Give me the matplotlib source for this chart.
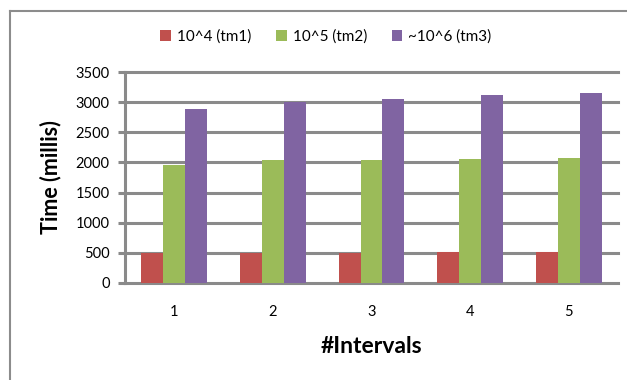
import matplotlib
matplotlib.use("Agg")
import matplotlib.pyplot as plt
import numpy as np
from matplotlib.lines import Line2D
from matplotlib.patches import Patch

plt.rcParams['font.family'] = ['Lato', 'DejaVu Sans']

intervals = ["1", "2", "3", "4", "5"]
tm1 = [490, 490, 490, 505, 505]
tm2 = [1965, 2035, 2035, 2055, 2080]
tm3 = [2895, 3010, 3050, 3115, 3160]
series_names = ["10^4 (tm1)", "10^5 (tm2)", "~10^6 (tm3)"]
colors = ["#C0504D", "#9BBB59", "#8064A2"]
y_ticks = [0, 500, 1000, 1500, 2000, 2500, 3000, 3500]

W, H = 627, 380
fig = plt.figure(figsize=(W / 100, H / 100), dpi=100)
fig.patch.set_facecolor("white")

ax = fig.add_axes([125 / W, 1 - 282.7 / H, (618 - 125) / W, (282.7 - 72.3) / H])

x = np.arange(len(intervals))
bw = 0.222
for i, vals in enumerate([tm1, tm2, tm3]):
    ax.bar(x + (i - 1) * bw, vals, width=bw, color=colors[i], zorder=3,
           edgecolor="none")

grid_c = "#8A8A8A"
ax.set_xlim(-0.5, len(intervals) - 0.5)
ax.set_ylim(0, 3500)
ax.set_yticks(y_ticks)
ax.set_xticks(x)
ax.set_xticklabels(intervals)
for v in y_ticks:
    ax.axhline(v, color=grid_c, lw=2.2, zorder=1, clip_on=False)

for s in ["top", "right", "bottom"]:
    ax.spines[s].set_visible(False)
ax.spines["left"].set_color(grid_c)
ax.spines["left"].set_linewidth(2.2)
ax.tick_params(axis="y", length=5, width=2.2, color=grid_c, labelsize=10.5,
               pad=6, labelcolor="black")
ax.tick_params(axis="x", length=0, labelsize=10.5, pad=16, labelcolor="black")

ax.set_ylabel("Time (millis)", fontsize=15.5, fontweight="bold", labelpad=10)
ax.set_xlabel("#Intervals", fontsize=16.5, fontweight="bold", labelpad=12)

handles = [Patch(facecolor=c, edgecolor="none") for c in colors]
fig.legend(handles, series_names, loc="center", bbox_to_anchor=(326 / W, 1 - 37 / H),
           ncol=3, frameon=False, fontsize=11, handlelength=0.7, handleheight=0.7,
           handletextpad=0.4, columnspacing=1.6)

# Chart frame
frame_c = "#8C8C8C"
fig.add_artist(Line2D([10 / W, 10 / W], [0, 1 - 11 / H], transform=fig.transFigure,
                      color=frame_c, lw=1.5))
fig.add_artist(Line2D([10 / W, 1], [1 - 11 / H, 1 - 11 / H], transform=fig.transFigure,
                      color=frame_c, lw=1.5))

fig.savefig("out.png", dpi=100, facecolor="white")
